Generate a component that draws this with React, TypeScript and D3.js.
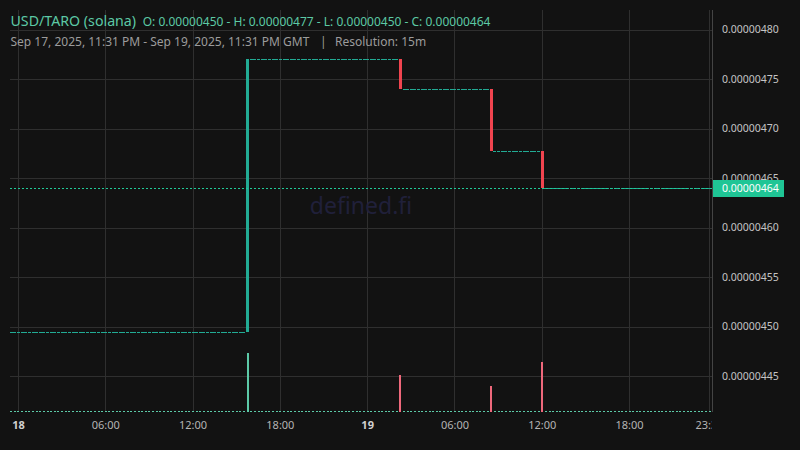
import React from "react";
import * as d3 from "d3";

// ---- data ----
const pairTitle = "USD/TARO (solana)";
const ohlcText = "O: 0.00000450 - H: 0.00000477 - L: 0.00000450 - C: 0.00000464";
const rangeText = "Sep 17, 2025, 11:31 PM - Sep 19, 2025, 11:31 PM GMT";
const resolutionText = "Resolution: 15m";
const watermark = "defined.fi";

// price level changes (15m candles; price stays flat between changes)
const changeTimes = [
  "2025-09-17T23:30:00Z",
  "2025-09-18T15:45:00Z",
  "2025-09-19T02:15:00Z",
  "2025-09-19T08:30:00Z",
  "2025-09-19T12:00:00Z",
];
const changePrices = [0.000004495, 0.00000477, 0.00000474, 0.000004677, 0.00000464];
const changeVolumes = [0, 590, 370, 260, 500];
const lastCandleTime = "2025-09-19T23:30:00Z";
const lastPrice = 0.00000464;

const yTicks = [0.00000445, 0.0000045, 0.00000455, 0.0000046, 0.00000465, 0.0000047, 0.00000475, 0.0000048];
const xTickTimes = [
  "2025-09-18T00:00:00Z",
  "2025-09-18T06:00:00Z",
  "2025-09-18T12:00:00Z",
  "2025-09-18T18:00:00Z",
  "2025-09-19T00:00:00Z",
  "2025-09-19T06:00:00Z",
  "2025-09-19T12:00:00Z",
  "2025-09-19T18:00:00Z",
  "2025-09-19T23:30:00Z",
];
const xTickLabels = ["18", "06:00", "12:00", "18:00", "19", "06:00", "12:00", "18:00", "23:30"];
const xTickBold = [true, false, false, false, true, false, false, false, false];

// ---- layout ----
const W = 800;
const H = 450;
const left = 10;
const right = 712;
const top = 10;
const bottom = 412;
const FONT = "'Noto Sans', 'Open Sans', sans-serif";

const UP = "#22ab94";
const DOWN = "#f0444f";
const UP_VOL = "#5cc9a7";
const DOWN_VOL = "#ee687b";

type Candle = { t: Date; o: number; c: number; v: number };

function buildCandles(): Candle[] {
  const out: Candle[] = [];
  const step = 15 * 60 * 1000;
  const start = new Date(changeTimes[0]).getTime();
  const end = new Date(lastCandleTime).getTime();
  const ct = changeTimes.map((s) => new Date(s).getTime());
  let level = changePrices[0];
  for (let t = start; t <= end; t += step) {
    const idx = ct.indexOf(t);
    if (idx > 0) {
      out.push({ t: new Date(t), o: level, c: changePrices[idx], v: changeVolumes[idx] });
      level = changePrices[idx];
    } else {
      out.push({ t: new Date(t), o: level, c: level, v: 0 });
    }
  }
  return out;
}

export default function App() {
  const candles = buildCandles();
  const x = d3
    .scaleUtc()
    .domain([new Date(Date.UTC(2025, 8, 17, 23, 25)), new Date(Date.UTC(2025, 8, 19, 23, 40))])
    .range([left, right]);
  const y = d3.scaleLinear().domain([0.00000445, 0.0000048]).range([376.2, 29.5]);
  const vy = d3.scaleLinear().domain([0, 600]).range([bottom, bottom - 60]);
  const fmt = d3.format(".8f");
  const bodyW = 3;
  const volW = 2;

  return (
    <svg
      width={W}
      height={H}
      style={{ position: "fixed", left: 0, top: 0, display: "block", background: "#121212" }}
    >
      <defs>
        <clipPath id="plot">
          <rect x={left} y={top} width={right - left} height={bottom - top} />
        </clipPath>
      </defs>
      <rect width={W} height={H} fill="#121212" />

      {/* grid */}
      <g clipPath="url(#plot)">
        {yTicks.map((v, i) => (
          <line key={"h" + i} x1={left} x2={right} y1={Math.round(y(v)) + 0.5} y2={Math.round(y(v)) + 0.5} stroke="#2f2f2f" />
        ))}
        {xTickTimes.map((s, i) => {
          const px = Math.floor(x(new Date(s))) + 0.5;
          return <line key={"v" + i} x1={px} x2={px} y1={top} y2={bottom} stroke="#2f2f2f" />;
        })}
      </g>

      {/* watermark */}
      <text
        x={361}
        y={214}
        textAnchor="middle"
        fontFamily={FONT}
        fontSize={23}
        fill="#20203a"
      >
        {watermark}
      </text>

      <g clipPath="url(#plot)">
        {/* volume */}
        {candles.map((d, i) => {
          const cx = x(d.t);
          const yt = Math.min(vy(d.v), bottom - 1);
          return (
            <rect
              key={"vol" + i}
              x={Math.round(cx - volW / 2)}
              y={Math.round(yt)}
              width={volW}
              height={bottom - Math.round(yt)}
              fill={d.c >= d.o ? UP_VOL : DOWN_VOL}
            />
          );
        })}
        {/* candles */}
        {candles.map((d, i) => {
          const cx = x(d.t);
          const y1 = Math.round(y(Math.max(d.o, d.c)));
          const y2 = Math.round(y(Math.min(d.o, d.c)));
          return (
            <rect
              key={"c" + i}
              x={Math.round(cx - bodyW / 2)}
              y={y1}
              width={bodyW}
              height={Math.max(1, y2 - y1)}
              fill={d.c >= d.o ? UP : DOWN}
            />
          );
        })}
        {/* last price line */}
        <line
          x1={left}
          x2={right}
          y1={Math.round(y(lastPrice)) + 0.5}
          y2={Math.round(y(lastPrice)) + 0.5}
          stroke="#20c997"
          strokeDasharray="2,2"
        />
      </g>

      {/* right axis */}
      <line x1={right + 0.5} x2={right + 0.5} y1={top} y2={bottom} stroke="#444" />
      {yTicks.map((v, i) => (
        <text
          key={"yl" + i}
          x={722}
          y={y(v)}
          dy="0.35em"
          fontFamily={FONT}
          fontSize={10.5}
          fill="#c4c4c4"
        >
          {fmt(v)}
        </text>
      ))}
      <rect x={right + 1} y={Math.round(y(lastPrice)) - 8} width={71} height={17} fill="#1fc595" />
      <text
        x={722}
        y={y(lastPrice) + 0.5}
        dy="0.35em"
        fontFamily={FONT}
        fontSize={10.5}
        fill="#ffffff"
      >
        {fmt(lastPrice)}
      </text>

      {/* bottom axis */}
      <g>
        <clipPath id="xlab">
          <rect x={0} y={bottom} width={right} height={H - bottom} />
        </clipPath>
        <g clipPath="url(#xlab)">
          {xTickTimes.map((s, i) => (
            <text
              key={"xl" + i}
              x={x(new Date(s))}
              y={429}
              textAnchor="middle"
              fontFamily={FONT}
              fontSize={11}
              fontWeight={xTickBold[i] ? 700 : 400}
              fill={xTickBold[i] ? "#d0d0d0" : "#b4b4b4"}
            >
              {xTickLabels[i]}
            </text>
          ))}
        </g>
      </g>

      {/* header */}
      <text x={10.5} y={25.5} fontFamily={FONT} fontSize={14.2} fill="#5cc9a5">
        {pairTitle}
      </text>
      <text x={142.7} y={25.5} fontFamily={FONT} fontSize={12} fill="#5cc9a5">
        {ohlcText}
      </text>
      <text x={10.5} y={45.5} fontFamily={FONT} fontSize={12} fill="#9c9c9c">
        {rangeText}
      </text>
      <text x={320} y={45.5} fontFamily={FONT} fontSize={12} fill="#9c9c9c">
        |
      </text>
      <text x={335} y={45.5} fontFamily={FONT} fontSize={12} fill="#9c9c9c">
        {resolutionText}
      </text>
    </svg>
  );
}
